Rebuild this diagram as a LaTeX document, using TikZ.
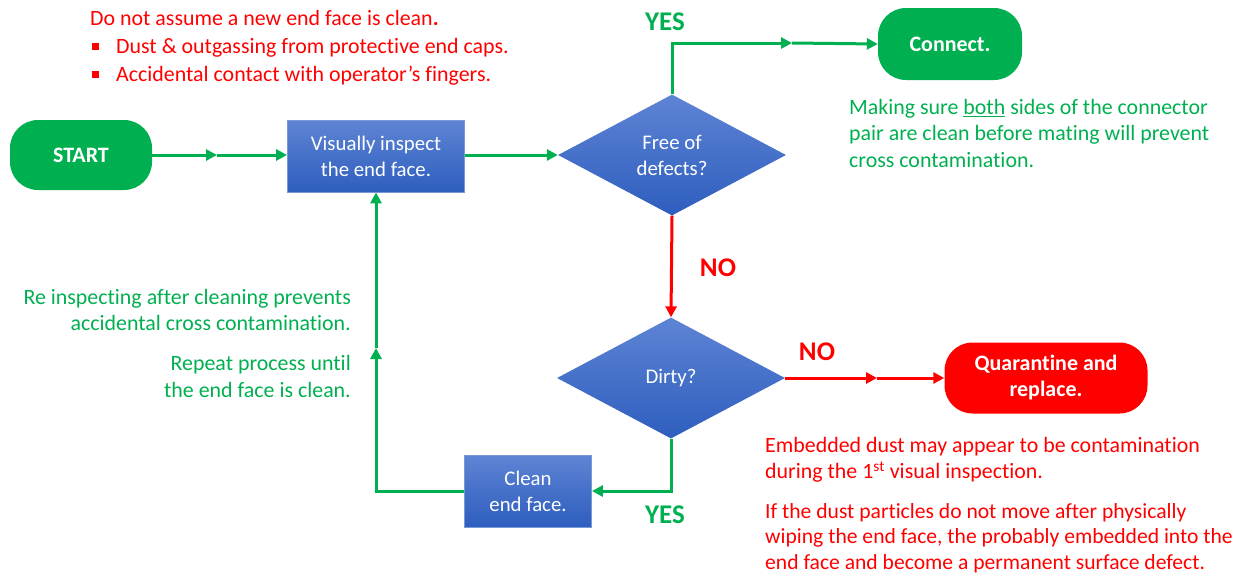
\documentclass[tikz,border=0pt]{standalone}
\usepackage{fontspec}
\setmainfont{Carlito}[Ligatures=NoCommon]
\usetikzlibrary{arrows.meta,shapes.geometric}
\definecolor{pgreen}{RGB}{0,176,80}
\definecolor{pred}{RGB}{255,0,0}
\definecolor{btop}{RGB}{94,132,212}
\definecolor{bbot}{RGB}{46,94,190}
\definecolor{bedge}{RGB}{120,152,218}
\begin{document}
\begin{tikzpicture}[x=1pt,y=-1pt,
  note/.style={inner sep=0pt,font=\fontsize{21.9}{26.5}\selectfont},
  procbox/.style={draw=bedge,line width=0.8pt,top color=btop,bottom color=bbot,text=white,align=center,
    font=\fontsize{20.8}{26}\selectfont,inner sep=0pt},
  decision/.style={diamond,draw=none,top color=btop,bottom color=bbot,text=white,align=center,
    font=\fontsize{20.8}{26}\selectfont,inner sep=0pt,minimum width=228pt,minimum height=121pt},
  term/.style={rounded corners=28pt,text=white,align=center,font=\bfseries\fontsize{22}{26}\selectfont,inner sep=0pt},
  garrow/.style={draw=pgreen,line width=3pt,-{Triangle[length=11pt,width=11pt]}},
  rarrow/.style={draw=pred,line width=3pt,-{Triangle[length=11pt,width=11pt]}},
  lbl/.style={font=\bfseries\fontsize{27}{30}\selectfont,inner sep=0pt}
]
\useasboundingbox (0,0) rectangle (1249,576);

% nodes
\node[term,fill=pgreen,minimum width=142pt,minimum height=70pt] (start) at (81,155) {START};
\node[procbox,minimum width=177pt,minimum height=72pt] (inspect) at (376,156) {Visually inspect\\the end face.};
\node[decision] (free) at (672,155) {Free of\\defects?};
\node[term,fill=pgreen,minimum width=144pt,minimum height=72pt] (connect) at (950,44) {Connect.};
\node[decision] (dirty) at (671,378) {Dirty?};
\node[term,fill=pred,minimum width=203pt,minimum height=71pt] (quar) at (1046,378) {Quarantine and\\replace.};
\node[procbox,minimum width=127pt,minimum height=72pt] (clean) at (528,491) {Clean\\end face.};

% coordinates for mid-arrows
\coordinate (c1) at (217,155);
\coordinate (c2) at (792,43);
\coordinate (c3) at (877,378);
\coordinate (c4) at (376,348);

% connectors
\draw[garrow] (start.east) -- (c1);
\draw[garrow] (c1) -- (start.east -| inspect.west);
\draw[garrow] (inspect.east |- free.west) -- (free.west);
\draw[garrow] (free.north) |- (c2);
\draw[garrow] (c2) -- (connect.west);
\draw[rarrow] (free.south) -- (dirty.north);
\draw[rarrow] (dirty.east) -- (c3);
\draw[rarrow] (c3) -- (quar.west);
\draw[garrow] (dirty.south) |- (clean.east);
\draw[garrow] (clean.west) -| (c4);
\draw[garrow] (c4) -- (inspect.south);

% labels
\node[lbl,text=pgreen] (yes1) at (665,22) {YES};
\node[lbl,text=pred] (no1) at (718,268) {NO};
\node[lbl,text=pred] (no2) at (817,352) {NO};
\node[lbl,text=pgreen] (yes2) at (665,515) {YES};

% notes
\node[note,text=pred,anchor=north west,align=left] (topnote) at (90,10.5)
 {Do not assume a new end face is clean\textbf{.}\\[1.5pt]
  \hspace*{2pt}\rule[3.5pt]{7pt}{7pt}\hspace{17pt}Dust \& outgassing from protective end caps.\\[1pt]
  \hspace*{2pt}\rule[3.5pt]{7pt}{7pt}\hspace{17pt}Accidental contact with operator’s fingers.};
\node[note,text=pgreen,anchor=north west,align=left] (connnote) at (849,99)
 {Making sure \underline{both} sides of the connector\\pair are clean before mating will prevent\\cross contamination.};
\node[note,text=pgreen,anchor=north east,align=right] (renote) at (351,289)
 {Re inspecting after cleaning prevents\\accidental cross contamination.};
\node[note,text=pgreen,anchor=north east,align=right] (repnote) at (351,355.5)
 {Repeat process until\\the end face is clean.};
\node[note,text=pred,anchor=north west,align=left] (embnote) at (765,437)
 {Embedded dust may appear to be contamination\\during the 1\textsuperscript{st} visual inspection.};
\node[note,text=pred,anchor=north west,align=left,font=\fontsize{21.6}{25.6}\selectfont] (dustnote) at (765,503)
 {If the dust particles do not move after physically\\wiping the end face, the probably embedded into the\\end face and become a permanent surface defect.};
\end{tikzpicture}
\end{document}
